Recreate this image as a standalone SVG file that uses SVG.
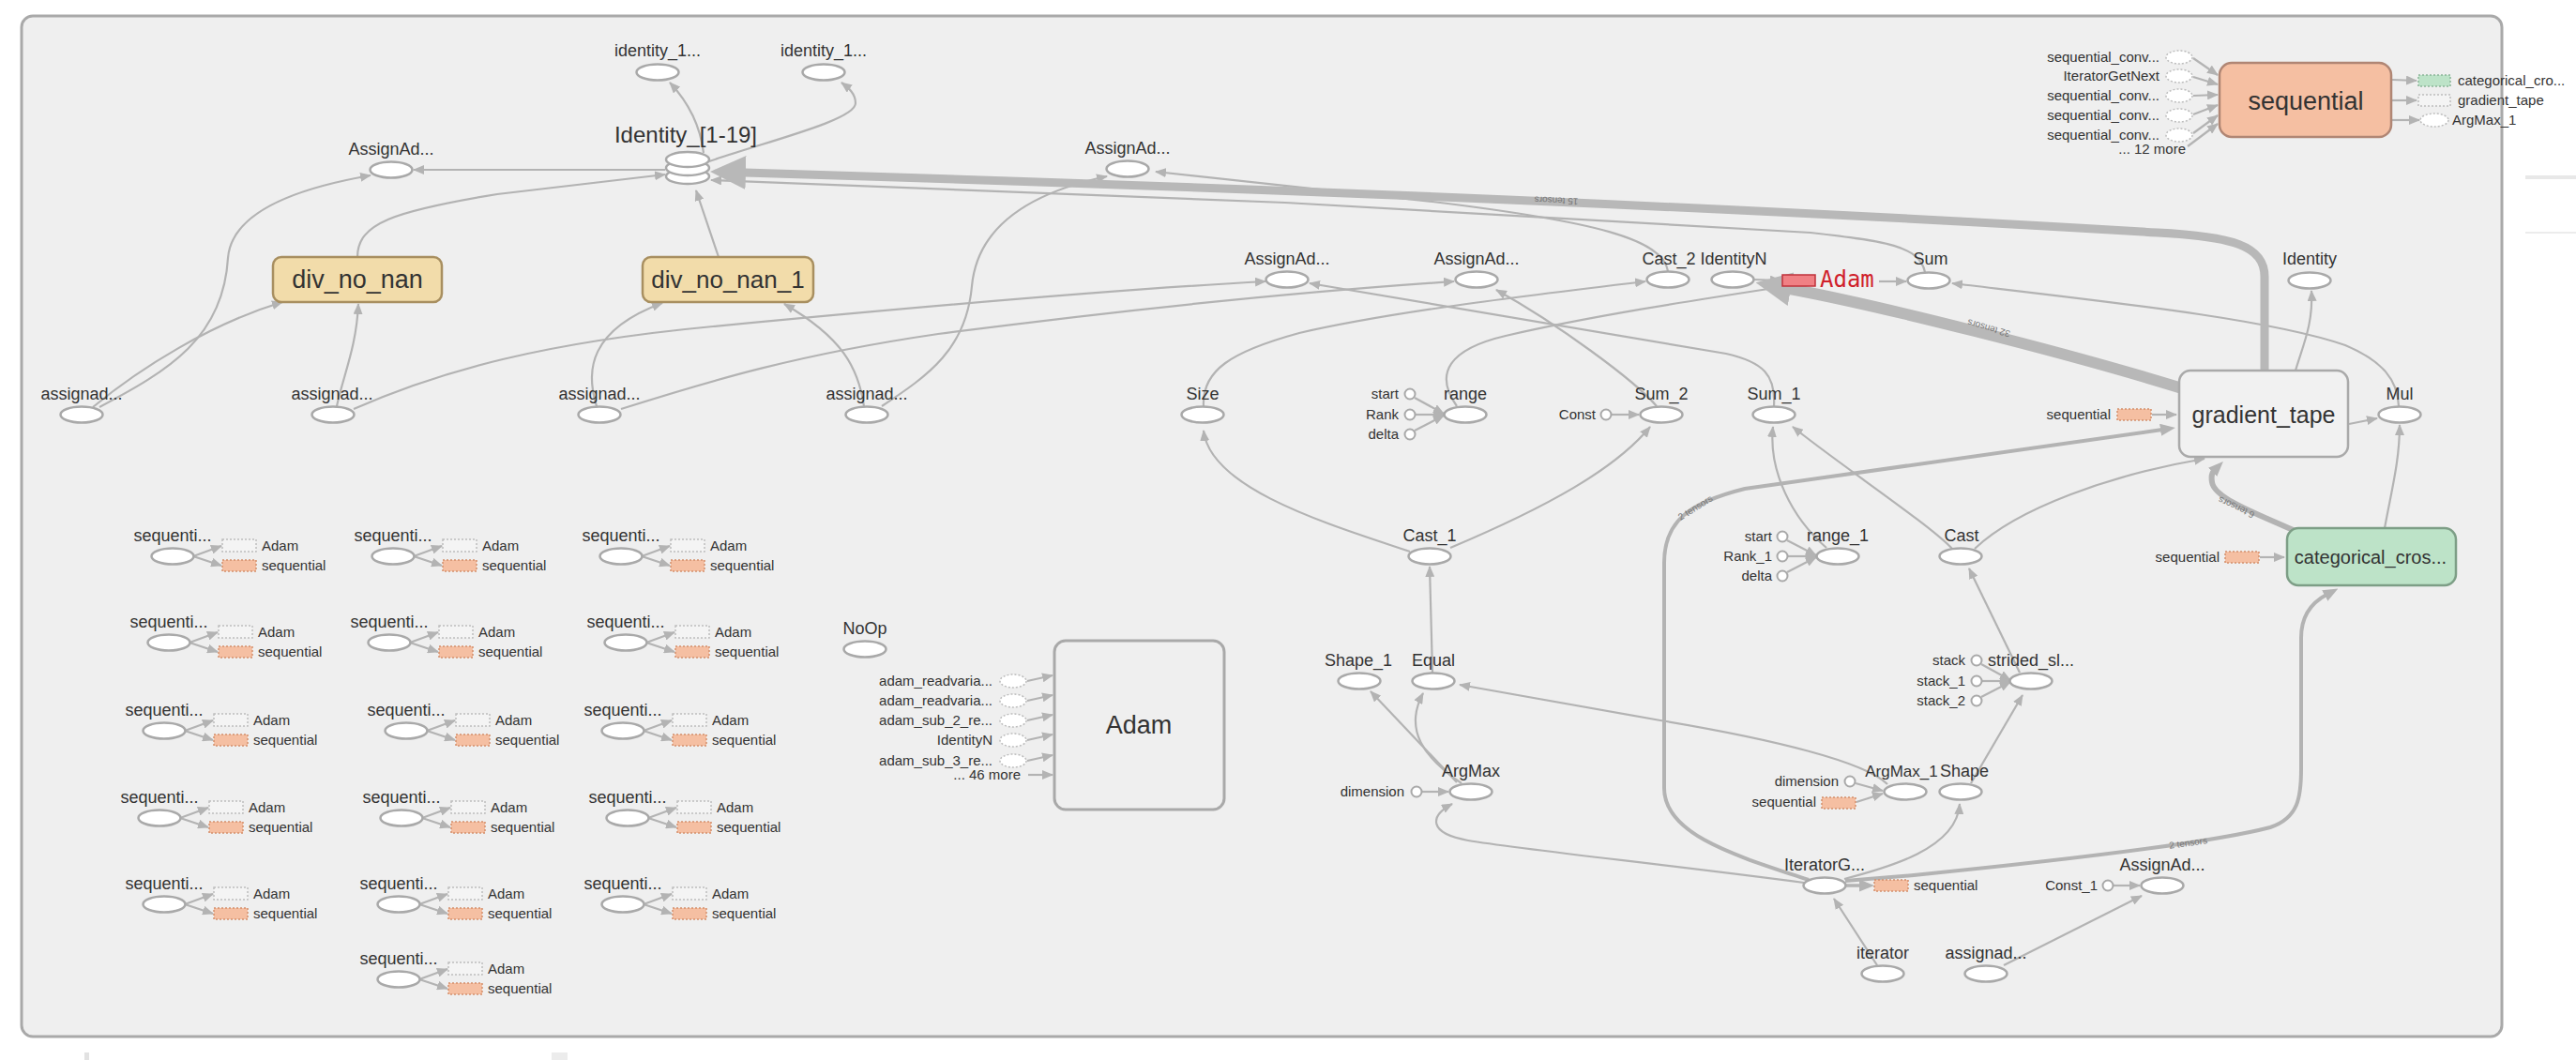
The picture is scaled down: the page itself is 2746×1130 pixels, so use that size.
<svg xmlns="http://www.w3.org/2000/svg" width="2746" height="1130" viewBox="0 0 2746 1130">
<style>
.frame{fill:#efefef;stroke:#a9a9a9;stroke-width:3}
.e{fill:none;stroke:#b3b3b3;stroke-width:2.2}
.e4{fill:none;stroke:#b3b3b3;stroke-width:4}
.op{fill:#fff;stroke:#a9a9a9;stroke-width:2.5}
.ci{fill:#fff;stroke:#a9a9a9;stroke-width:2}
.dz{fill:#fff;stroke:#bdbdbd;stroke-width:1.5;stroke-dasharray:2 2}
.dr{fill:#f4f4f4;stroke:#bdbdbd;stroke-width:1.5;stroke-dasharray:2 2}
.or{fill:#f5bfa2;stroke:#d4906c;stroke-width:1.5;stroke-dasharray:2 2}
.gr{fill:#bde3c8;stroke:#8bb598;stroke-width:1.5;stroke-dasharray:2 2}
text{font-family:"Liberation Sans",Arial,sans-serif;fill:#333}
.l{font-size:18px;text-anchor:middle}
.s{font-size:15px}
.r{text-anchor:end}
.big{font-size:27px;text-anchor:middle}
.el{font-size:10px;fill:#777;text-anchor:middle}
</style>
<defs>
<marker id="a" markerUnits="userSpaceOnUse" markerWidth="12" markerHeight="10" refX="11" refY="5" orient="auto" viewBox="0 0 12 10"><path d="M0,0 L12,5 L0,10 z" fill="#b3b3b3"/></marker>
<marker id="m" markerUnits="userSpaceOnUse" markerWidth="16" markerHeight="13" refX="2" refY="6.5" orient="auto" viewBox="0 0 16 13"><path d="M0,0 L16,6.5 L0,13 z" fill="#b3b3b3"/></marker>
<marker id="b" markerUnits="userSpaceOnUse" markerWidth="38" markerHeight="36" refX="1" refY="18" orient="auto" viewBox="0 0 38 36"><path d="M0,0 L38,18 L0,36 z" fill="#b8b8b8"/></marker>
</defs>
<rect x="0" y="0" width="2746" height="1130" fill="#fff"/>
<rect class="frame" x="23" y="17" width="2644" height="1088" rx="12"/>
<rect x="2692" y="187" width="54" height="4" fill="#e8e8e8"/>
<rect x="2692" y="247" width="54" height="2" fill="#ececec"/>
<rect x="90" y="1122" width="5" height="8" fill="#e2e2e2"/>
<rect x="588" y="1122" width="17" height="8" fill="#ececec"/>

<g id="connectors">
<path class="e" marker-end="url(#a)" d="M99 434 C150 392,225 345,301 322"/>
<path class="e" marker-end="url(#a)" d="M106 434 C180 395,238 360,243 275 C247 225,320 200,395 187"/>
<path class="e" marker-end="url(#a)" d="M381 274 C381 238,420 225,530 207 L709 186"/>
<path class="e" marker-end="url(#a)" d="M709 181 L441 181"/>
<path class="e" marker-end="url(#a)" d="M766 274 L742 203"/>
<path class="e" marker-end="url(#a)" d="M359 433 C366 400,380 370,382 324"/>
<path class="e" marker-end="url(#a)" d="M377 436 C470 395,580 365,760 348 C1000 325,1200 308,1349 300"/>
<path class="e" marker-end="url(#a)" d="M636 433 C624 395,628 352,706 323"/>
<path class="e" marker-end="url(#a)" d="M662 436 C760 405,850 378,1000 356 C1200 330,1400 310,1550 300"/>
<path class="e" marker-end="url(#a)" d="M921 433 C915 392,898 360,836 324"/>
<path class="e" marker-end="url(#a)" d="M940 433 C990 400,1030 372,1036 305 C1042 240,1100 205,1180 188"/>
<path class="e" marker-end="url(#a)" d="M2052 290 C2046 262,2010 257,1930 248 L1370 216 L758 192"/>
<path class="e" marker-end="url(#a)" d="M1778 289 C1773 255,1700 236,1527 215 L1232 183"/>
<path class="e" marker-end="url(#a)" d="M1283 433 C1281 395,1312 375,1385 355 C1480 333,1620 316,1754 300"/>
<path class="e" marker-end="url(#a)" d="M1553 433 C1528 398,1545 372,1605 358 C1700 336,1820 318,1898 306"/>
<path class="e" marker-end="url(#a)" d="M1766 433 C1742 405,1660 345,1595 309"/>
<path class="e" marker-end="url(#a)" d="M1891 433 C1893 400,1880 386,1840 377 L1396 302"/>
<path class="e" marker-end="url(#a)" d="M1503 588 C1420 560,1290 522,1283 459"/>
<path class="e" marker-end="url(#a)" d="M1546 584 C1650 540,1722 500,1759 455"/>
<path class="e" marker-end="url(#a)" d="M1527 717 L1524 604"/>
<path class="e" marker-end="url(#a)" d="M1553 834 L1461 737"/>
<path class="e" marker-end="url(#a)" d="M1558 835 C1518 808,1496 778,1517 739"/>
<path class="e" marker-end="url(#a)" d="M2012 836 C1988 812,1890 788,1770 768 L1556 730"/>
<path class="e" marker-end="url(#a)" d="M1923 941 C1780 922,1625 906,1565 896 C1522 888,1524 870,1548 857"/>
<path class="e" marker-end="url(#a)" d="M1966 937 C2012 925,2086 905,2089 857"/>
<path class="e" marker-end="url(#a)" d="M2001 1029 L1955 958"/>
<path class="e" marker-end="url(#a)" d="M2101 835 L2156 741"/>
<path class="e" marker-end="url(#a)" d="M2153 717 L2099 606"/>
<path class="e" marker-end="url(#a)" d="M2081 585 C2058 560,1962 496,1911 455"/>
<path class="e" marker-end="url(#a)" d="M2105 585 C2150 542,2250 506,2350 489"/>
<path class="e" marker-end="url(#a)" d="M1947 584 C1910 552,1885 502,1890 455"/>
<path class="e" marker-end="url(#a)" d="M1718 442 L1747 442"/>
<path class="e" marker-end="url(#a)" d="M2253 944 L2281 944"/>
<path class="e" marker-end="url(#a)" d="M2136 1029 L2283 955"/>
<path class="e" marker-end="url(#a)" d="M2447 395 C2455 368,2466 345,2464 310"/>
<path class="e" marker-end="url(#a)" d="M2504 452 L2534 446"/>
<path class="e" marker-end="url(#a)" d="M2557 433 C2556 405,2540 385,2500 368 C2420 340,2250 322,2081 302"/>
<path class="e" marker-end="url(#a)" d="M2542 563 C2550 520,2558 490,2558 453"/>
<path class="e" marker-end="url(#a)" d="M2294 442 L2320 442"/>
<path class="e" marker-end="url(#a)" d="M2409 594 L2435 594"/>
<path class="e" marker-end="url(#a)" d="M1870 298 L1898 299"/>
<path class="e" marker-end="url(#a)" d="M2003 300 L2032 300"/>
<path class="e" marker-end="url(#a)" d="M750 163 C746 130,730 105,714 88"/>
<path class="e" marker-end="url(#a)" d="M756 172 C820 150,912 128,912 110 C912 100,905 94,897 88"/>
<path class="e" marker-end="url(#a)" d="M1508 424 L1539 441"/>
<path class="e" marker-end="url(#a)" d="M1509 442 L1539 442"/>
<path class="e" marker-end="url(#a)" d="M1508 459 L1539 443"/>
<path class="e" marker-end="url(#a)" d="M1905 576 L1936 592"/>
<path class="e" marker-end="url(#a)" d="M1906 593 L1936 593"/>
<path class="e" marker-end="url(#a)" d="M1905 610 L1936 594"/>
<path class="e" marker-end="url(#a)" d="M2112 708 L2143 725"/>
<path class="e" marker-end="url(#a)" d="M2113 726 L2143 726"/>
<path class="e" marker-end="url(#a)" d="M2112 743 L2143 727"/>
<path class="e" marker-end="url(#a)" d="M1516 844 L1544 844"/>
<path class="e" marker-end="url(#a)" d="M1978 835 L2007 843"/>
<path class="e" marker-end="url(#a)" d="M1979 855 L2007 846"/>
<path class="e" marker-end="url(#a)" d="M2338 62 L2364 80"/>
<path class="e" marker-end="url(#a)" d="M2338 82 L2364 90"/>
<path class="e" marker-end="url(#a)" d="M2338 102 L2364 101"/>
<path class="e" marker-end="url(#a)" d="M2338 122 L2364 112"/>
<path class="e" marker-end="url(#a)" d="M2338 142 L2364 123"/>
<path class="e" marker-end="url(#a)" d="M2332 156 L2364 132"/>
<path class="e" marker-end="url(#a)" d="M2550 85 L2576 86"/>
<path class="e" marker-end="url(#a)" d="M2550 107 L2576 107"/>
<path class="e" marker-end="url(#a)" d="M2550 128 L2579 128"/>
<path class="e" marker-end="url(#a)" d="M1095 726 L1122 720"/>
<path class="e" marker-end="url(#a)" d="M1095 747 L1122 741"/>
<path class="e" marker-end="url(#a)" d="M1095 768 L1122 762"/>
<path class="e" marker-end="url(#a)" d="M1095 789 L1122 783"/>
<path class="e" marker-end="url(#a)" d="M1095 811 L1122 805"/>
<path class="e" marker-end="url(#a)" d="M1096 826 L1122 826"/>
<path class="e" marker-end="url(#a)" d="M206 593 L236 582"/><path class="e" marker-end="url(#a)" d="M206 593 L236 603"/>
<path class="e" marker-end="url(#a)" d="M441 593 L471 582"/><path class="e" marker-end="url(#a)" d="M441 593 L471 603"/>
<path class="e" marker-end="url(#a)" d="M684 593 L714 582"/><path class="e" marker-end="url(#a)" d="M684 593 L714 603"/>
<path class="e" marker-end="url(#a)" d="M202 685 L232 674"/><path class="e" marker-end="url(#a)" d="M202 685 L232 695"/>
<path class="e" marker-end="url(#a)" d="M437 685 L467 674"/><path class="e" marker-end="url(#a)" d="M437 685 L467 695"/>
<path class="e" marker-end="url(#a)" d="M689 685 L719 674"/><path class="e" marker-end="url(#a)" d="M689 685 L719 695"/>
<path class="e" marker-end="url(#a)" d="M197 779 L227 768"/><path class="e" marker-end="url(#a)" d="M197 779 L227 789"/>
<path class="e" marker-end="url(#a)" d="M455 779 L485 768"/><path class="e" marker-end="url(#a)" d="M455 779 L485 789"/>
<path class="e" marker-end="url(#a)" d="M686 779 L716 768"/><path class="e" marker-end="url(#a)" d="M686 779 L716 789"/>
<path class="e" marker-end="url(#a)" d="M192 872 L222 861"/><path class="e" marker-end="url(#a)" d="M192 872 L222 882"/>
<path class="e" marker-end="url(#a)" d="M450 872 L480 861"/><path class="e" marker-end="url(#a)" d="M450 872 L480 882"/>
<path class="e" marker-end="url(#a)" d="M691 872 L721 861"/><path class="e" marker-end="url(#a)" d="M691 872 L721 882"/>
<path class="e" marker-end="url(#a)" d="M197 964 L227 953"/><path class="e" marker-end="url(#a)" d="M197 964 L227 974"/>
<path class="e" marker-end="url(#a)" d="M447 964 L477 953"/><path class="e" marker-end="url(#a)" d="M447 964 L477 974"/>
<path class="e" marker-end="url(#a)" d="M686 964 L716 953"/><path class="e" marker-end="url(#a)" d="M686 964 L716 974"/>
<path class="e" marker-end="url(#a)" d="M447 1044 L477 1033"/><path class="e" marker-end="url(#a)" d="M447 1044 L477 1054"/>
<path class="e4" marker-end="url(#m)" d="M1928 938 C1850 912,1774 890,1774 840 L1774 600 C1774 556,1800 536,1860 521 L2305 458"/>
<path class="e4" marker-end="url(#m)" d="M1967 939 L2040 933 C2200 917,2355 899,2420 882 C2450 872,2453 850,2453 820 L2453 680 C2453 655,2465 642,2480 634"/>
<path class="e" style="stroke-width:3.5" marker-end="url(#m)" d="M1968 944 L1984 944"/>
<path fill="none" stroke="#b3b3b3" stroke-width="6" marker-end="url(#m)" d="M2447 566 C2400 546,2360 530,2358 514 C2357 508,2358 504,2360 502"/>
<path fill="none" stroke="#b8b8b8" stroke-width="9" marker-end="url(#b)" d="M2414 395 L2414 295 C2414 262,2380 252,2300 248 C2000 230,1500 205,794 184"/>
<path fill="none" stroke="#b8b8b8" stroke-width="12" marker-end="url(#b)" d="M2326 414 C2200 375,2000 325,1908 308"/>
<text class="el" transform="translate(1659,214) rotate(182.6)" dy="3.5">15 tensors</text>
<text class="el" transform="translate(2120,350) rotate(196)" dy="3.5">32 tensors</text>
<text class="el" transform="translate(2384,541) rotate(205)" dy="3.5">6 tensors</text>
<text class="el" transform="translate(1809,544) rotate(-32)">2 tensors</text>
<text class="el" transform="translate(2333,902) rotate(-8)">2 tensors</text>
</g>

<g id="identity_1a"><ellipse class="op" cx="701" cy="77" rx="22.5" ry="8.5"/><text class="l" x="701" y="60">identity_1...</text></g>
<g id="identity_1b"><ellipse class="op" cx="878" cy="77" rx="22.5" ry="8.5"/><text class="l" x="878" y="60">identity_1...</text></g>
<g id="Identity_1_19">
<ellipse class="op" cx="733" cy="188" rx="23" ry="8"/>
<ellipse class="op" cx="733" cy="179" rx="23" ry="8"/>
<ellipse class="op" cx="733" cy="170" rx="23" ry="8"/>
<text x="731" y="152" style="font-size:24px;text-anchor:middle">Identity_[1-19]</text></g>
<g id="AssignAd_1"><ellipse class="op" cx="417" cy="181" rx="22.5" ry="8.5"/><text class="l" x="417" y="165">AssignAd...</text></g>
<g id="AssignAd_2"><ellipse class="op" cx="1202" cy="180" rx="22.5" ry="8.5"/><text class="l" x="1202" y="164">AssignAd...</text></g>
<g id="div_no_nan"><rect x="291" y="274" width="180" height="48" rx="9" fill="#f2dcaa" stroke="#a88f60" stroke-width="2.5"/><text class="big" x="381" y="307">div_no_nan</text></g>
<g id="div_no_nan_1"><rect x="685" y="274" width="182" height="48" rx="9" fill="#f2dcaa" stroke="#a88f60" stroke-width="2.5"/><text class="big" x="776" y="307" style="font-size:26px">div_no_nan_1</text></g>
<g id="AssignAd_3"><ellipse class="op" cx="1372" cy="298" rx="22.5" ry="8.5"/><text class="l" x="1372" y="282">AssignAd...</text></g>
<g id="AssignAd_4"><ellipse class="op" cx="1574" cy="298" rx="22.5" ry="8.5"/><text class="l" x="1574" y="282">AssignAd...</text></g>
<g id="Cast_2"><ellipse class="op" cx="1778" cy="298" rx="22.5" ry="8.5"/><text class="l" x="1779" y="282">Cast_2</text></g>
<g id="IdentityN"><ellipse class="op" cx="1847" cy="298" rx="22.5" ry="8.5"/><text class="l" x="1848" y="282">IdentityN</text></g>
<g id="Adam_ref"><rect x="1900" y="293" width="35" height="12" fill="#f08084" stroke="#c0303a" stroke-width="1.5"/><text x="1940" y="306" style="font-family:'DejaVu Sans Mono','Liberation Mono',monospace;font-size:24px;fill:#d0202a">Adam</text></g>
<g id="Sum"><ellipse class="op" cx="2056" cy="299" rx="22.5" ry="8.5"/><text class="l" x="2058" y="282">Sum</text></g>
<g id="Identity"><ellipse class="op" cx="2462" cy="299" rx="22.5" ry="8.5"/><text class="l" x="2462" y="282">Identity</text></g>

<g id="sequential">
<rect x="2366" y="67" width="183" height="79" rx="13" fill="#f5bfa2" stroke="#b08674" stroke-width="2.5"/>
<text class="big" x="2458" y="117">sequential</text>
<ellipse class="dz" cx="2323" cy="61" rx="14" ry="7"/><text class="s r" x="2302" y="66">sequential_conv...</text>
<ellipse class="dz" cx="2323" cy="81" rx="14" ry="7"/><text class="s r" x="2302" y="86">IteratorGetNext</text>
<ellipse class="dz" cx="2323" cy="102" rx="14" ry="7"/><text class="s r" x="2302" y="107">sequential_conv...</text>
<ellipse class="dz" cx="2323" cy="123" rx="14" ry="7"/><text class="s r" x="2302" y="128">sequential_conv...</text>
<ellipse class="dz" cx="2323" cy="144" rx="14" ry="7"/><text class="s r" x="2302" y="149">sequential_conv...</text>
<text class="s r" x="2330" y="164">... 12 more</text>
<rect class="gr" x="2578" y="80" width="34" height="12"/><text class="s" x="2620" y="91">categorical_cro...</text>
<rect class="dr" x="2578" y="101" width="34" height="12"/><text class="s" x="2620" y="112">gradient_tape</text>
<ellipse class="dz" cx="2595" cy="128" rx="15" ry="7"/><text class="s" x="2614" y="133">ArgMax_1</text>
</g>

<g id="assignad_1"><ellipse class="op" cx="87" cy="442" rx="22.5" ry="8.5"/><text class="l" x="87" y="426">assignad...</text></g>
<g id="assignad_2"><ellipse class="op" cx="355" cy="442" rx="22.5" ry="8.5"/><text class="l" x="354" y="426">assignad...</text></g>
<g id="assignad_3"><ellipse class="op" cx="639" cy="442" rx="22.5" ry="8.5"/><text class="l" x="639" y="426">assignad...</text></g>
<g id="assignad_4"><ellipse class="op" cx="924" cy="442" rx="22.5" ry="8.5"/><text class="l" x="924" y="426">assignad...</text></g>
<g id="Size"><ellipse class="op" cx="1282" cy="442" rx="22.5" ry="8.5"/><text class="l" x="1282" y="426">Size</text></g>
<g id="range">
<ellipse class="op" cx="1562" cy="442" rx="22.5" ry="8.5"/><text class="l" x="1562" y="426">range</text>
<circle class="ci" cx="1503" cy="420" r="5.5"/><text class="s r" x="1491" y="425">start</text>
<circle class="ci" cx="1503" cy="442" r="5.5"/><text class="s r" x="1491" y="447">Rank</text>
<circle class="ci" cx="1503" cy="463" r="5.5"/><text class="s r" x="1491" y="468">delta</text>
</g>
<g id="Sum_2"><ellipse class="op" cx="1771" cy="442" rx="22.5" ry="8.5"/><text class="l" x="1771" y="426">Sum_2</text>
<circle class="ci" cx="1712" cy="442" r="5.5"/><text class="s r" x="1701" y="447">Const</text></g>
<g id="Sum_1"><ellipse class="op" cx="1891" cy="442" rx="22.5" ry="8.5"/><text class="l" x="1891" y="426">Sum_1</text></g>
<g id="gradient_tape">
<rect x="2323" y="395" width="180" height="92" rx="12" fill="#f1f1f1" stroke="#a9a9a9" stroke-width="2.5"/>
<text class="big" x="2413" y="451" style="font-size:25px">gradient_tape</text>
<rect class="or" x="2257" y="436" width="36" height="12"/><text class="s r" x="2250" y="447">sequential</text>
</g>
<g id="Mul"><ellipse class="op" cx="2558" cy="442" rx="22.5" ry="8.5"/><text class="l" x="2558" y="426">Mul</text></g>
<g id="Cast_1"><ellipse class="op" cx="1524" cy="593" rx="22.5" ry="8.5"/><text class="l" x="1524" y="577">Cast_1</text></g>
<g id="range_1">
<ellipse class="op" cx="1959" cy="593" rx="22.5" ry="8.5"/><text class="l" x="1959" y="577">range_1</text>
<circle class="ci" cx="1900" cy="572" r="5.5"/><text class="s r" x="1889" y="577">start</text>
<circle class="ci" cx="1900" cy="593" r="5.5"/><text class="s r" x="1889" y="598">Rank_1</text>
<circle class="ci" cx="1900" cy="614" r="5.5"/><text class="s r" x="1889" y="619">delta</text>
</g>
<g id="Cast"><ellipse class="op" cx="2090" cy="593" rx="22.5" ry="8.5"/><text class="l" x="2091" y="577">Cast</text></g>
<g id="categorical_crossentropy">
<rect x="2438" y="563" width="180" height="61" rx="12" fill="#bde3c8" stroke="#7d9e86" stroke-width="2.5"/>
<text x="2527" y="601" style="font-size:20px;text-anchor:middle">categorical_cros...</text>
<rect class="or" x="2372" y="588" width="36" height="12"/><text class="s r" x="2366" y="599">sequential</text>
</g>
<g id="Shape_1"><ellipse class="op" cx="1449" cy="726" rx="22.5" ry="8.5"/><text class="l" x="1448" y="710">Shape_1</text></g>
<g id="Equal"><ellipse class="op" cx="1528" cy="726" rx="22.5" ry="8.5"/><text class="l" x="1528" y="710">Equal</text></g>
<g id="strided_slice">
<ellipse class="op" cx="2165" cy="726" rx="22.5" ry="8.5"/><text class="l" x="2165" y="710">strided_sl...</text>
<circle class="ci" cx="2107" cy="704" r="5.5"/><text class="s r" x="2095" y="709">stack</text>
<circle class="ci" cx="2107" cy="726" r="5.5"/><text class="s r" x="2095" y="731">stack_1</text>
<circle class="ci" cx="2107" cy="747" r="5.5"/><text class="s r" x="2095" y="752">stack_2</text>
</g>
<g id="NoOp"><ellipse class="op" cx="922" cy="692" rx="22.5" ry="8.5"/><text class="l" x="922" y="676">NoOp</text></g>
<g id="Adam">
<rect x="1124" y="683" width="181" height="180" rx="12" fill="#efefef" stroke="#a9a9a9" stroke-width="3"/>
<text class="big" x="1214" y="782">Adam</text>
<ellipse class="dz" cx="1080" cy="726" rx="14" ry="7"/><text class="s r" x="1058" y="731">adam_readvaria...</text>
<ellipse class="dz" cx="1080" cy="747" rx="14" ry="7"/><text class="s r" x="1058" y="752">adam_readvaria...</text>
<ellipse class="dz" cx="1080" cy="768" rx="14" ry="7"/><text class="s r" x="1058" y="773">adam_sub_2_re...</text>
<ellipse class="dz" cx="1080" cy="789" rx="14" ry="7"/><text class="s r" x="1058" y="794">IdentityN</text>
<ellipse class="dz" cx="1080" cy="811" rx="14" ry="7"/><text class="s r" x="1058" y="816">adam_sub_3_re...</text>
<text class="s r" x="1088" y="831">... 46 more</text>
</g>
<g id="ArgMax"><ellipse class="op" cx="1568" cy="844" rx="22.5" ry="8.5"/><text class="l" x="1568" y="828">ArgMax</text>
<circle class="ci" cx="1510" cy="844" r="5.5"/><text class="s r" x="1497" y="849">dimension</text></g>
<g id="ArgMax_1"><ellipse class="op" cx="2031" cy="844" rx="22.5" ry="8.5"/><text class="l" x="2027" y="828" style="font-size:17px">ArgMax_1</text>
<circle class="ci" cx="1972" cy="833" r="5.5"/><text class="s r" x="1960" y="838">dimension</text>
<rect class="or" x="1942" y="850" width="36" height="12"/><text class="s r" x="1936" y="860">sequential</text></g>
<g id="Shape"><ellipse class="op" cx="2090" cy="844" rx="22.5" ry="8.5"/><text class="l" x="2094" y="828">Shape</text></g>
<g id="IteratorGetNext"><ellipse class="op" cx="1945" cy="944" rx="22.5" ry="8.5"/><text class="l" x="1945" y="928">IteratorG...</text>
<rect class="or" x="1998" y="938" width="36" height="12"/><text class="s" x="2040" y="949">sequential</text></g>
<g id="AssignAd_5"><ellipse class="op" cx="2305" cy="944" rx="22.5" ry="8.5"/><text class="l" x="2305" y="928">AssignAd...</text>
<circle class="ci" cx="2247" cy="944" r="5.5"/><text class="s r" x="2236" y="949">Const_1</text></g>
<g id="iterator"><ellipse class="op" cx="2007" cy="1038" rx="22.5" ry="8.5"/><text class="l" x="2007" y="1022">iterator</text></g>
<g id="assignad_5"><ellipse class="op" cx="2117" cy="1038" rx="22.5" ry="8.5"/><text class="l" x="2117" y="1022">assignad...</text></g>

<g id="seq_a1"><ellipse class="op" cx="184" cy="593" rx="22.5" ry="8.5"/><text class="l" x="184" y="577">sequenti...</text><rect class="dr" x="237" y="575" width="36" height="13"/><text class="s" x="279" y="587">Adam</text><rect class="or" x="237" y="597" width="36" height="12"/><text class="s" x="279" y="608">sequential</text></g>
<g id="seq_a2"><ellipse class="op" cx="419" cy="593" rx="22.5" ry="8.5"/><text class="l" x="419" y="577">sequenti...</text><rect class="dr" x="472" y="575" width="36" height="13"/><text class="s" x="514" y="587">Adam</text><rect class="or" x="472" y="597" width="36" height="12"/><text class="s" x="514" y="608">sequential</text></g>
<g id="seq_a3"><ellipse class="op" cx="662" cy="593" rx="22.5" ry="8.5"/><text class="l" x="662" y="577">sequenti...</text><rect class="dr" x="715" y="575" width="36" height="13"/><text class="s" x="757" y="587">Adam</text><rect class="or" x="715" y="597" width="36" height="12"/><text class="s" x="757" y="608">sequential</text></g>
<g id="seq_b1"><ellipse class="op" cx="180" cy="685" rx="22.5" ry="8.5"/><text class="l" x="180" y="669">sequenti...</text><rect class="dr" x="233" y="667" width="36" height="13"/><text class="s" x="275" y="679">Adam</text><rect class="or" x="233" y="689" width="36" height="12"/><text class="s" x="275" y="700">sequential</text></g>
<g id="seq_b2"><ellipse class="op" cx="415" cy="685" rx="22.5" ry="8.5"/><text class="l" x="415" y="669">sequenti...</text><rect class="dr" x="468" y="667" width="36" height="13"/><text class="s" x="510" y="679">Adam</text><rect class="or" x="468" y="689" width="36" height="12"/><text class="s" x="510" y="700">sequential</text></g>
<g id="seq_b3"><ellipse class="op" cx="667" cy="685" rx="22.5" ry="8.5"/><text class="l" x="667" y="669">sequenti...</text><rect class="dr" x="720" y="667" width="36" height="13"/><text class="s" x="762" y="679">Adam</text><rect class="or" x="720" y="689" width="36" height="12"/><text class="s" x="762" y="700">sequential</text></g>
<g id="seq_c1"><ellipse class="op" cx="175" cy="779" rx="22.5" ry="8.5"/><text class="l" x="175" y="763">sequenti...</text><rect class="dr" x="228" y="761" width="36" height="13"/><text class="s" x="270" y="773">Adam</text><rect class="or" x="228" y="783" width="36" height="12"/><text class="s" x="270" y="794">sequential</text></g>
<g id="seq_c2"><ellipse class="op" cx="433" cy="779" rx="22.5" ry="8.5"/><text class="l" x="433" y="763">sequenti...</text><rect class="dr" x="486" y="761" width="36" height="13"/><text class="s" x="528" y="773">Adam</text><rect class="or" x="486" y="783" width="36" height="12"/><text class="s" x="528" y="794">sequential</text></g>
<g id="seq_c3"><ellipse class="op" cx="664" cy="779" rx="22.5" ry="8.5"/><text class="l" x="664" y="763">sequenti...</text><rect class="dr" x="717" y="761" width="36" height="13"/><text class="s" x="759" y="773">Adam</text><rect class="or" x="717" y="783" width="36" height="12"/><text class="s" x="759" y="794">sequential</text></g>
<g id="seq_d1"><ellipse class="op" cx="170" cy="872" rx="22.5" ry="8.5"/><text class="l" x="170" y="856">sequenti...</text><rect class="dr" x="223" y="854" width="36" height="13"/><text class="s" x="265" y="866">Adam</text><rect class="or" x="223" y="876" width="36" height="12"/><text class="s" x="265" y="887">sequential</text></g>
<g id="seq_d2"><ellipse class="op" cx="428" cy="872" rx="22.5" ry="8.5"/><text class="l" x="428" y="856">sequenti...</text><rect class="dr" x="481" y="854" width="36" height="13"/><text class="s" x="523" y="866">Adam</text><rect class="or" x="481" y="876" width="36" height="12"/><text class="s" x="523" y="887">sequential</text></g>
<g id="seq_d3"><ellipse class="op" cx="669" cy="872" rx="22.5" ry="8.5"/><text class="l" x="669" y="856">sequenti...</text><rect class="dr" x="722" y="854" width="36" height="13"/><text class="s" x="764" y="866">Adam</text><rect class="or" x="722" y="876" width="36" height="12"/><text class="s" x="764" y="887">sequential</text></g>
<g id="seq_e1"><ellipse class="op" cx="175" cy="964" rx="22.5" ry="8.5"/><text class="l" x="175" y="948">sequenti...</text><rect class="dr" x="228" y="946" width="36" height="13"/><text class="s" x="270" y="958">Adam</text><rect class="or" x="228" y="968" width="36" height="12"/><text class="s" x="270" y="979">sequential</text></g>
<g id="seq_e2"><ellipse class="op" cx="425" cy="964" rx="22.5" ry="8.5"/><text class="l" x="425" y="948">sequenti...</text><rect class="dr" x="478" y="946" width="36" height="13"/><text class="s" x="520" y="958">Adam</text><rect class="or" x="478" y="968" width="36" height="12"/><text class="s" x="520" y="979">sequential</text></g>
<g id="seq_e3"><ellipse class="op" cx="664" cy="964" rx="22.5" ry="8.5"/><text class="l" x="664" y="948">sequenti...</text><rect class="dr" x="717" y="946" width="36" height="13"/><text class="s" x="759" y="958">Adam</text><rect class="or" x="717" y="968" width="36" height="12"/><text class="s" x="759" y="979">sequential</text></g>
<g id="seq_f2"><ellipse class="op" cx="425" cy="1044" rx="22.5" ry="8.5"/><text class="l" x="425" y="1028">sequenti...</text><rect class="dr" x="478" y="1026" width="36" height="13"/><text class="s" x="520" y="1038">Adam</text><rect class="or" x="478" y="1048" width="36" height="12"/><text class="s" x="520" y="1059">sequential</text></g>
</svg>
